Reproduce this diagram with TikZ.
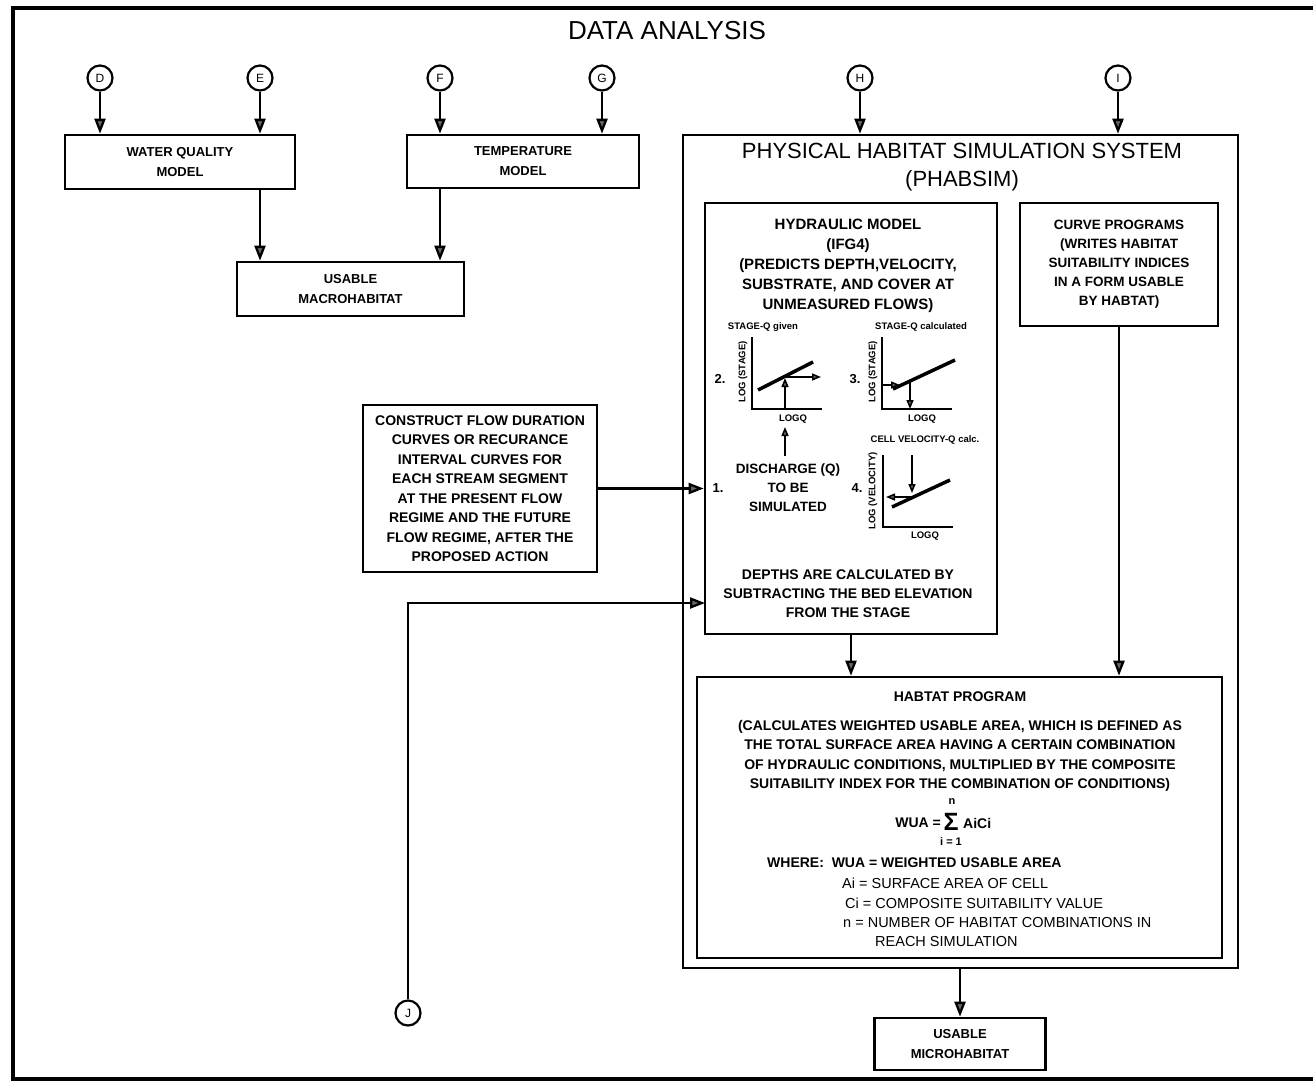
\documentclass[tikz,border=0pt]{standalone}
\usepackage{fontspec}
\setmainfont{Liberation Sans}
\usetikzlibrary{arrows.meta}
\tikzset{
  box/.style = {draw, line width=2.6pt, align=center, inner sep=0pt,
    font=\bfseries\fontsize{14}{19.5}\selectfont},
  tag/.style = {draw, circle, line width=2.2pt, minimum size=25pt, inner sep=0pt,
    font=\fontsize{12}{14}\selectfont},
  txt/.style = {align=center, inner sep=0pt, font=\bfseries\fontsize{14}{19.5}\selectfont},
  lbl/.style = {inner sep=0pt, font=\bfseries\fontsize{9.5}{11}\selectfont},
  link/.style = {line width=2.3pt, -{Triangle[width=11pt,length=15pt,fill=black!60]}},
  small link/.style = {line width=1.5pt, -{Triangle[width=7pt,length=9pt,fill=black!60]}}
}

\begin{document}
\begin{tikzpicture}[x=1pt,y=-1pt]
  \useasboundingbox (0,0) rectangle (1313,1082);
  % frame and title
  \draw[line width=4.5pt] (1313,8) -- (13,8) -- (13,1079) -- (1313,1079);
  \node[font=\fontsize{26}{30}\selectfont] (title) at (667,31) {DATA ANALYSIS};

  % input tags
  \node[tag] (D) at (100,78) {D};
  \node[tag] (E) at (260,78) {E};
  \node[tag] (F) at (440,78) {F};
  \node[tag] (G) at (602,78) {G};
  \node[tag] (H) at (860,78) {H};
  \node[tag] (I) at (1118,78) {I};
  \node[tag] (J) at (408,1013) {J};

  % macrohabitat branch
  \node[box, minimum width=230pt, minimum height=54pt, font=\bfseries\fontsize{13}{20}\selectfont]
    (wq) at (180,162) {WATER QUALITY\\MODEL};
  \node[box, minimum width=232pt, minimum height=53pt, font=\bfseries\fontsize{13}{20}\selectfont]
    (temp) at (523,161.5) {TEMPERATURE\\MODEL};
  \node[box, minimum width=227pt, minimum height=54pt, font=\bfseries\fontsize{13}{20}\selectfont]
    (macro) at (350.5,289) {USABLE\\MACROHABITAT};

  \draw[link] (D) -- (D |- wq.north);
  \draw[link] (E) -- (E |- wq.north);
  \draw[link] (F) -- (F |- temp.north);
  \draw[link] (G) -- (G |- temp.north);
  \draw[link] (E |- wq.south) -- (E |- macro.north);
  \draw[link] (F |- temp.south) -- (F |- macro.north);

  % PHABSIM
  \node[box, minimum width=555pt, minimum height=833pt] (phab) at (960.5,551.5) {};
  \node[font=\fontsize{22}{28}\selectfont, align=center] (phabtitle) at (962,167)
    {PHYSICAL HABITAT SIMULATION SYSTEM\\(PHABSIM)};
  \draw[link] (H) -- (H |- phab.north);
  \draw[link] (I) -- (I |- phab.north);

  \node[box, minimum width=292pt, minimum height=431pt] (hyd) at (851,418.5) {};
  \node[txt, font=\bfseries\fontsize{15}{20}\selectfont] (hydhead) at (848,266)
    {HYDRAULIC MODEL\\(IFG4)\\(PREDICTS DEPTH,VELOCITY,\\SUBSTRATE, AND COVER AT\\UNMEASURED FLOWS)};
  \node[txt, font=\bfseries\fontsize{14}{19}\selectfont] (depth) at (848,594)
    {DEPTHS ARE CALCULATED BY\\SUBTRACTING THE BED ELEVATION\\FROM THE STAGE};

  \node[box, minimum width=198pt, minimum height=123pt, font=\bfseries\fontsize{13.5}{19}\selectfont]
    (curve) at (1119,264.5)
    {CURVE PROGRAMS\\(WRITES HABITAT\\SUITABILITY INDICES\\IN A FORM USABLE\\BY HABTAT)};

  % step 1
  \node[lbl, font=\bfseries\fontsize{13}{19}\selectfont] (n1) at (718,488) {1.};
  \node[txt, font=\bfseries\fontsize{13.5}{19}\selectfont] (dis) at (788,488)
    {DISCHARGE (Q)\\TO BE\\SIMULATED};
  \draw[small link] (785,456) -- (785,427);

  % step 2
  \node[lbl, font=\bfseries\fontsize{13}{15}\selectfont] (n2) at (720,379) {2.};
  \node[lbl] (g2t) at (763,327) {STAGE-Q given};
  \node[lbl, rotate=90] (g2y) at (743,372) {LOG (STAGE)};
  \node[lbl] (g2x) at (793,419) {LOGQ};
  \draw[line width=1.8pt] (752,337) -- (752,409) -- (822,409);
  \draw[line width=3.5pt] (758,390) -- (813,362);
  \draw[small link] (785,409) -- (785,378);
  \draw[small link] (785,377) -- (821,377);

  % step 3
  \node[lbl, font=\bfseries\fontsize{13}{15}\selectfont] (n3) at (855,379) {3.};
  \node[lbl] (g3t) at (921,327) {STAGE-Q calculated};
  \node[lbl, rotate=90] (g3y) at (873,372) {LOG (STAGE)};
  \node[lbl] (g3x) at (922,419) {LOGQ};
  \draw[line width=1.8pt] (882,337) -- (882,409) -- (952,409);
  \draw[line width=3.5pt] (893,389) -- (955,360);
  \draw[small link] (882,385) -- (900,385);
  \draw[small link] (910,382) -- (910,409);

  % step 4
  \node[lbl, font=\bfseries\fontsize{13}{15}\selectfont] (n4) at (857,488) {4.};
  \node[lbl] (g4t) at (925,440) {CELL VELOCITY-Q calc.};
  \node[lbl, rotate=90] (g4y) at (873,491) {LOG (VELOCITY)};
  \node[lbl] (g4x) at (925,536) {LOGQ};
  \draw[line width=1.8pt] (883,455) -- (883,527) -- (953,527);
  \draw[line width=3.5pt] (892,507) -- (950,480);
  \draw[small link] (912,455) -- (912,493);
  \draw[small link] (912,497) -- (886,497);

  % habitat program
  \node[box, minimum width=525pt, minimum height=281pt] (hab) at (959.5,817.5) {};
  \node[txt] (habhead) at (960,697) {HABTAT PROGRAM};
  \node[txt] (habtext) at (960,756)
    {(CALCULATES WEIGHTED USABLE AREA, WHICH IS DEFINED AS\\
     THE TOTAL SURFACE AREA HAVING A CERTAIN COMBINATION\\
     OF HYDRAULIC CONDITIONS, MULTIPLIED BY THE COMPOSITE\\
     SUITABILITY INDEX FOR THE COMBINATION OF CONDITIONS)};
  \node[txt, anchor=east] (wua) at (941,823) {WUA =};
  \node[txt, font=\bfseries\fontsize{25}{25}\selectfont] (sig) at (951,822) {Σ};
  \node[txt, font=\bfseries\fontsize{11}{12}\selectfont] (sup) at (952,802) {n};
  \node[txt, font=\bfseries\fontsize{11}{12}\selectfont] (sub) at (951,841) {i = 1};
  \node[txt, anchor=west] (aici) at (963,823) {AiCi};
  \node[txt, anchor=west] (w1) at (767,863) {WHERE:\ \ WUA = WEIGHTED USABLE AREA};
  \node[txt, anchor=west, font=\fontsize{14.5}{19}\selectfont] (w2) at (842,883) {Ai = SURFACE AREA OF CELL};
  \node[txt, anchor=west, font=\fontsize{14.5}{19}\selectfont] (w3) at (845,903) {Ci = COMPOSITE SUITABILITY VALUE};
  \node[txt, anchor=west, font=\fontsize{14.5}{19}\selectfont] (w4) at (843,922) {n = NUMBER OF HABITAT COMBINATIONS IN};
  \node[txt, anchor=west, font=\fontsize{14.5}{19}\selectfont] (w5) at (875,941) {REACH SIMULATION};

  \draw[link] (hyd.south) -- (hyd.south |- hab.north);
  \draw[link] (curve.south) -- (curve.south |- hab.north);

  % flow duration input
  \node[box, minimum width=234pt, minimum height=167pt] (flow) at (480,488.5)
    {CONSTRUCT FLOW DURATION\\CURVES OR RECURANCE\\INTERVAL CURVES FOR\\EACH STREAM SEGMENT\\
     AT THE PRESENT FLOW\\REGIME AND THE FUTURE\\FLOW REGIME, AFTER THE\\PROPOSED ACTION};
  \draw[link] (flow.east) -- (flow.east -| hyd.west);
  \coordinate (jin) at (705,603);
  \draw[link] (J.north) |- (jin);

  % output
  \node[box, minimum width=171pt, minimum height=52pt, font=\bfseries\fontsize{13}{20}\selectfont]
    (micro) at (960,1044) {USABLE\\MICROHABITAT};
  \draw[link] (micro.north |- phab.south) -- (micro.north);
\end{tikzpicture}
\end{document}
